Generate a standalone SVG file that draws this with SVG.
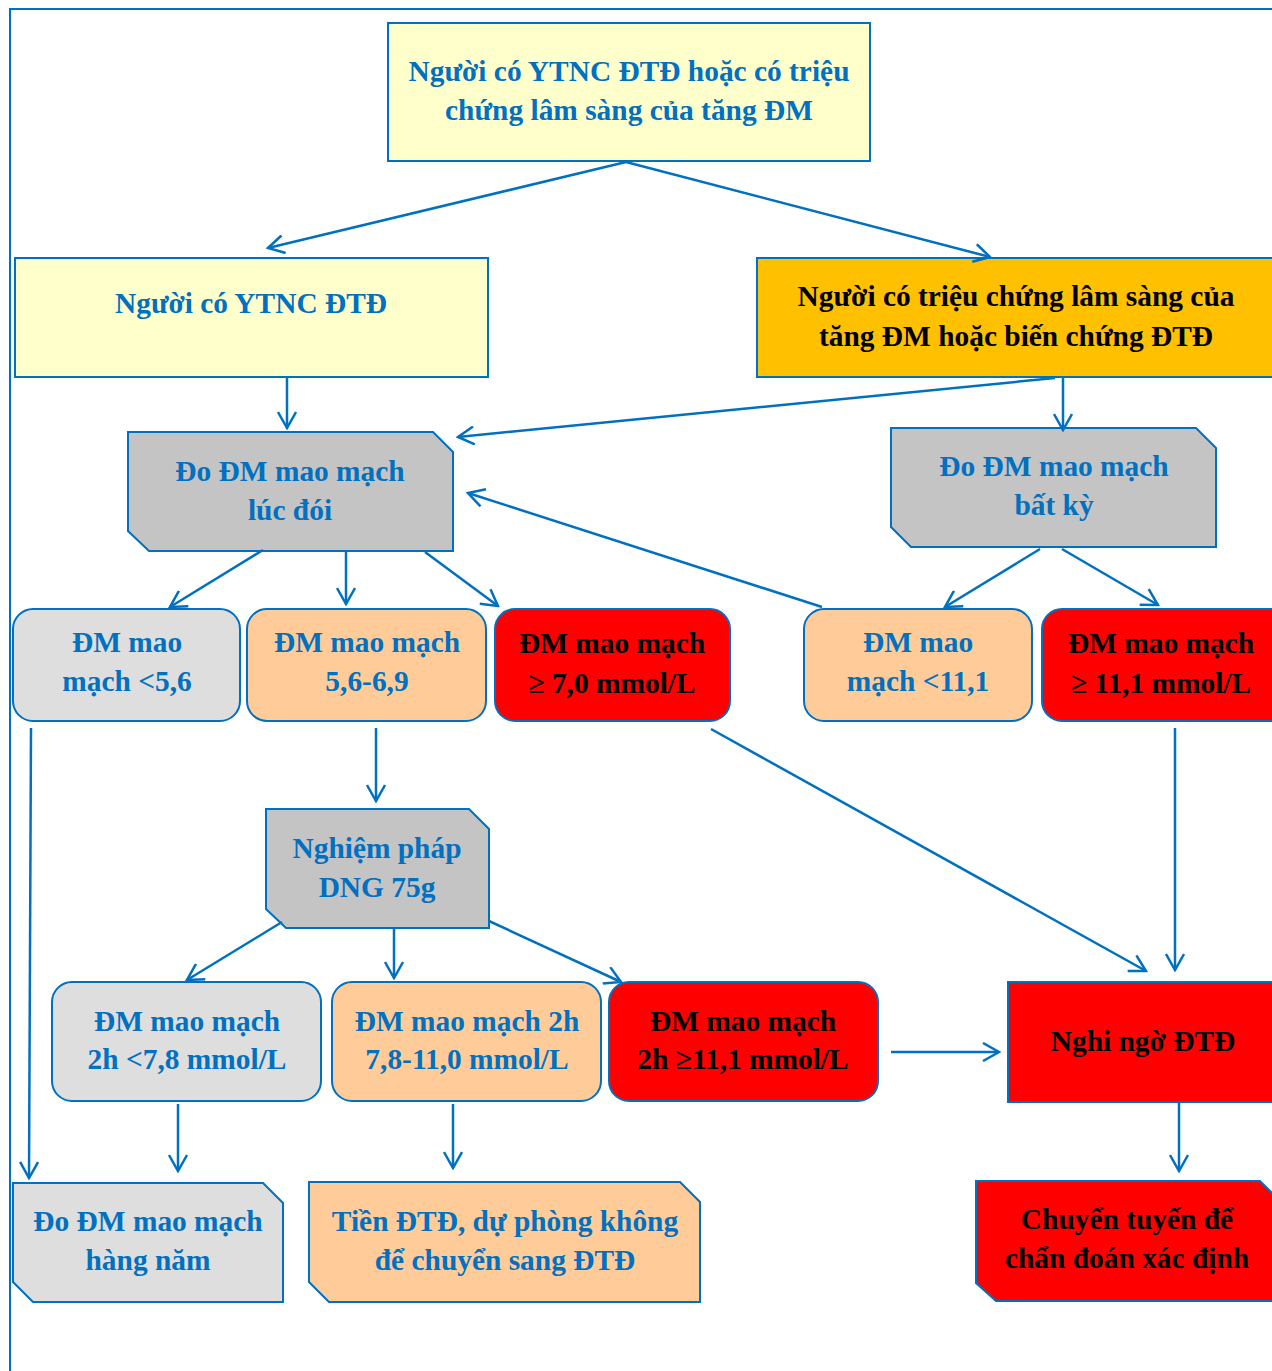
<svg xmlns="http://www.w3.org/2000/svg" width="1272" height="1371" viewBox="0 0 1272 1371">
<style>
  .bx{stroke:#0070C0;stroke-width:2}
  .yl{fill:#FFFFCC}
  .og{fill:#FFC000}
  .gr{fill:#C4C4C4}
  .lg{fill:#DEDEDE}
  .pe{fill:#FFCC99}
  .rd{fill:#FF0000}
  text{font-family:"Liberation Serif","Times New Roman",serif;font-weight:bold;font-size:29.4px;text-anchor:middle}
  .b{fill:#0070C0}
  .k{fill:#000000}
  .cn line{stroke:#0070C0;stroke-width:2.5;fill:none;marker-end:url(#ah)}
</style>
<defs>
  <marker id="ah" viewBox="0 0 20 20" refX="18" refY="10" markerWidth="20" markerHeight="20" markerUnits="userSpaceOnUse" orient="auto">
    <path d="M2,1 L18,10 L2,19" fill="none" stroke="#0070C0" stroke-width="2.5"/>
  </marker>
</defs>
<rect width="1272" height="1371" fill="#FFFFFF"/>
<g id="frame"><path d="M10,1371 L10,9 L1272,9" fill="none" stroke="#0070C0" stroke-width="2"/></g>

<g id="n-top"><rect class="bx yl" x="388" y="23" width="482" height="138"/>
<text class="b" x="629" y="81">Người có YTNC ĐTĐ hoặc có triệu</text>
<text class="b" x="629" y="120">chứng lâm sàng của tăng ĐM</text></g>

<g id="n-ytnc"><rect class="bx yl" x="15" y="258" width="473" height="119"/>
<text class="b" x="251" y="313">Người có YTNC ĐTĐ</text></g>

<g id="n-trieuchung"><rect class="bx og" x="757" y="258" width="525" height="119"/>
<text class="k" x="1016" y="306">Người có triệu chứng lâm sàng của</text>
<text class="k" x="1016" y="346">tăng ĐM hoặc biến chứng ĐTĐ</text></g>

<g id="n-luc-doi"><path class="bx gr" d="M128,432 L433,432 L453,452 L453,551 L149,551 L128,531 Z"/>
<text class="b" x="290" y="481">Đo ĐM mao mạch</text>
<text class="b" x="290" y="520">lúc đói</text></g>

<g id="n-bat-ky"><path class="bx gr" d="M891,428 L1196,428 L1216,448 L1216,547 L911,547 L891,527 Z"/>
<text class="b" x="1054" y="476">Đo ĐM mao mạch</text>
<text class="b" x="1054" y="515">bất kỳ</text></g>

<g id="n-lt56"><rect class="bx lg" x="13" y="609" width="227" height="112" rx="20"/>
<text class="b" x="127" y="652">ĐM mao</text>
<text class="b" x="127" y="691">mạch &lt;5,6</text></g>

<g id="n-56-69"><rect class="bx pe" x="247" y="609" width="239" height="112" rx="20"/>
<text class="b" x="367" y="652">ĐM mao mạch</text>
<text class="b" x="367" y="691">5,6-6,9</text></g>

<g id="n-ge70"><rect class="bx rd" x="495" y="609" width="235" height="112" rx="20"/>
<text class="k" x="612" y="653">ĐM mao mạch</text>
<text class="k" x="612" y="693">≥ 7,0 mmol/L</text></g>

<g id="n-lt111"><rect class="bx pe" x="804" y="609" width="228" height="112" rx="20"/>
<text class="b" x="918" y="652">ĐM mao</text>
<text class="b" x="918" y="691">mạch &lt;11,1</text></g>

<g id="n-ge111"><rect class="bx rd" x="1042" y="609" width="250" height="112" rx="20"/>
<text class="k" x="1161" y="653">ĐM mao mạch</text>
<text class="k" x="1161" y="693">≥ 11,1 mmol/L</text></g>

<g id="n-dng"><path class="bx gr" d="M266,809 L469,809 L489,829 L489,928 L286,928 L266,909 Z"/>
<text class="b" x="377" y="858">Nghiệm pháp</text>
<text class="b" x="377" y="897">DNG 75g</text></g>

<g id="n-2h-lt78"><rect class="bx lg" x="52" y="982" width="269" height="119" rx="20"/>
<text class="b" x="187" y="1031">ĐM mao mạch</text>
<text class="b" x="187" y="1069">2h &lt;7,8 mmol/L</text></g>

<g id="n-2h-78-110"><rect class="bx pe" x="332" y="982" width="269" height="119" rx="20"/>
<text class="b" x="467" y="1031">ĐM mao mạch 2h</text>
<text class="b" x="467" y="1069">7,8-11,0 mmol/L</text></g>

<g id="n-2h-ge111"><rect class="bx rd" x="609" y="982" width="269" height="119" rx="20"/>
<text class="k" x="743" y="1031">ĐM mao mạch</text>
<text class="k" x="743" y="1069">2h ≥11,1 mmol/L</text></g>

<g id="n-nghi-ngo"><rect class="bx rd" x="1008" y="982" width="284" height="120"/>
<text class="k" x="1143" y="1051">Nghi ngờ ĐTĐ</text></g>

<g id="n-chuyen-tuyen"><path class="bx rd" d="M976,1181 L1260,1181 L1280,1201 L1280,1301 L996,1301 L976,1283 Z"/>
<text class="k" x="1127" y="1229">Chuyển tuyến để</text>
<text class="k" x="1127" y="1268">chẩn đoán xác định</text></g>

<g id="n-hang-nam"><path class="bx lg" d="M13,1183 L263,1183 L283,1203 L283,1302 L33,1302 L13,1282 Z"/>
<text class="b" x="148" y="1231">Đo ĐM mao mạch</text>
<text class="b" x="148" y="1270">hàng năm</text></g>

<g id="n-tien-dtd"><path class="bx pe" d="M309,1182 L680,1182 L700,1202 L700,1302 L329,1302 L309,1282 Z"/>
<text class="b" x="505" y="1231">Tiền ĐTĐ, dự phòng không</text>
<text class="b" x="505" y="1270">để chuyển sang ĐTĐ</text></g>

<g id="connectors" class="cn">
<line x1="626" y1="162" x2="268" y2="248"/>
<line x1="626" y1="162" x2="990" y2="257"/>
<line x1="287" y1="378" x2="287" y2="428"/>
<line x1="1055" y1="378" x2="458" y2="437"/>
<line x1="1063" y1="378" x2="1063" y2="430"/>
<line x1="263" y1="550" x2="170" y2="607"/>
<line x1="346" y1="552" x2="346" y2="604"/>
<line x1="425" y1="552" x2="498" y2="606"/>
<line x1="822" y1="607" x2="468" y2="493"/>
<line x1="1040" y1="549" x2="945" y2="607"/>
<line x1="1062" y1="549" x2="1158" y2="605"/>
<line x1="31" y1="728" x2="29" y2="1178"/>
<line x1="376" y1="728" x2="376" y2="801"/>
<line x1="711" y1="729" x2="1146" y2="971"/>
<line x1="1175" y1="728" x2="1175" y2="970"/>
<line x1="282" y1="922" x2="187" y2="980"/>
<line x1="394" y1="929" x2="394" y2="978"/>
<line x1="489" y1="921" x2="621" y2="982"/>
<line x1="891" y1="1052" x2="999" y2="1052"/>
<line x1="1179" y1="1103" x2="1179" y2="1171"/>
<line x1="178" y1="1104" x2="178" y2="1171"/>
<line x1="453" y1="1104" x2="453" y2="1168"/>
</g>
</svg>
